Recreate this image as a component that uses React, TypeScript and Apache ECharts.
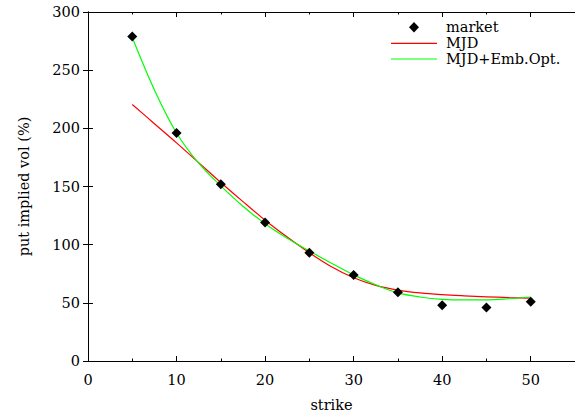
import React, { useEffect, useRef } from "react";
import * as echarts from "echarts";

const strikes = [5, 10, 15, 20, 25, 30, 35, 40, 45, 50];
const marketVol = [279, 196, 152, 119, 93, 74, 59, 48, 46, 51];

const curveX = [5, 7.5, 10, 12.5, 15, 17.5, 20, 22.5, 25, 27.5, 30, 32.5, 35, 37.5, 40, 42.5, 45, 47.5, 50];
const mjdVol = [220.5, 204, 187.5, 170.5, 153.5, 137, 121, 106.5, 93, 81, 71.5, 65, 61, 58.5, 57, 56, 55.2, 54.5, 54];
const mjdEmbVol = [278, 233, 196, 170, 150.5, 133, 118, 105.5, 94.5, 84, 74, 65.5, 58.5, 55, 53, 52.5, 52.5, 53.5, 55];

const xTicks = [0, 10, 20, 30, 40, 50];
const yTicks = [0, 50, 100, 150, 200, 250, 300];

const FONT = "DejaVu Serif";
const FS = 14.5;

export default function App() {
  const ref = useRef<HTMLDivElement>(null);
  useEffect(() => {
    if (!ref.current) return;
    const chart = echarts.init(ref.current, null, { renderer: "svg" });
    const pair = (xs: number[], ys: number[]) => xs.map((x, i) => [x, ys[i]]);
    const xMax = 55;
    const baseX = {
      type: "value",
      min: xTicks[0],
      max: xMax,
      splitLine: { show: false },
      axisLine: { show: true, lineStyle: { color: "#000", width: 1 } },
    };
    const baseY = {
      type: "value",
      min: yTicks[0],
      max: yTicks[yTicks.length - 1],
      interval: 50,
      splitLine: { show: false },
      axisLine: { show: true, lineStyle: { color: "#000", width: 1 } },
    };
    chart.setOption({
      animation: false,
      backgroundColor: "#fff",
      grid: { left: 88, top: 12, width: 490, height: 350 },
      xAxis: [
        {
          ...baseX,
          position: "bottom",
          interval: 10,
          name: "strike",
          nameLocation: "middle",
          nameGap: 36,
          nameTextStyle: { fontFamily: FONT, fontSize: FS, color: "#000" },
          axisTick: { show: true, inside: true, length: 5, lineStyle: { color: "#000" } },
          axisLabel: {
            show: true,
            margin: 11,
            showMaxLabel: false,
            fontFamily: FONT,
            fontSize: FS,
            color: "#000",
          },
        },
        {
          ...baseX,
          position: "bottom",
          interval: 5,
          axisLine: { show: false },
          axisTick: { show: true, inside: true, length: 2.5, lineStyle: { color: "#000" } },
          axisLabel: { show: false },
        },
        {
          ...baseX,
          position: "top",
          interval: 10,
          axisTick: { show: true, inside: true, length: 5, lineStyle: { color: "#000" } },
          axisLabel: { show: false },
        },
        {
          ...baseX,
          position: "top",
          interval: 5,
          axisLine: { show: false },
          axisTick: { show: true, inside: true, length: 2.5, lineStyle: { color: "#000" } },
          axisLabel: { show: false },
        },
      ],
      yAxis: [
        {
          ...baseY,
          position: "left",
          name: "put implied vol (%)",
          nameLocation: "middle",
          nameGap: 57,
          nameTextStyle: { fontFamily: FONT, fontSize: FS, color: "#000" },
          axisTick: { show: true, inside: true, length: 5, lineStyle: { color: "#000" } },
          axisLabel: { show: true, margin: 8, fontFamily: FONT, fontSize: FS, color: "#000" },
        },
        {
          ...baseY,
          position: "right",
          axisTick: { show: true, inside: true, length: 5, lineStyle: { color: "#000" } },
          axisLabel: { show: false },
        },
      ],
      series: [
        {
          name: "MJD",
          type: "line",
          data: pair(curveX, mjdVol),
          smooth: 0.35,
          showSymbol: false,
          lineStyle: { color: "#ff0000", width: 1.2 },
          itemStyle: { color: "#ff0000" },
          z: 2,
        },
        {
          name: "MJD+Emb.Opt.",
          type: "line",
          data: pair(curveX, mjdEmbVol),
          smooth: 0.35,
          showSymbol: false,
          lineStyle: { color: "#00ff00", width: 1.2 },
          itemStyle: { color: "#00ff00" },
          z: 3,
        },
        {
          name: "market",
          type: "scatter",
          data: pair(strikes, marketVol),
          symbol: "diamond",
          symbolSize: 10,
          itemStyle: { color: "#000", opacity: 1 },
          z: 4,
        },
      ],
      graphic: [
        {
          type: "polygon",
          shape: { points: [[414, 22], [419, 27.2], [414, 32.4], [409, 27.2]] },
          style: { fill: "#000" },
        },
        { type: "text", x: 446, y: 27.2, style: { text: "market", fontFamily: FONT, fontSize: FS, fill: "#000", verticalAlign: "middle" } },
        { type: "line", shape: { x1: 391, y1: 43.3, x2: 437, y2: 43.3 }, style: { stroke: "#ff0000", lineWidth: 1.2 } },
        { type: "text", x: 446, y: 43, style: { text: "MJD", fontFamily: FONT, fontSize: FS, fill: "#000", verticalAlign: "middle" } },
        { type: "line", shape: { x1: 391, y1: 59, x2: 437, y2: 59 }, style: { stroke: "#00ff00", lineWidth: 1.2 } },
        { type: "text", x: 446, y: 59, style: { text: "MJD+Emb.Opt.", fontFamily: FONT, fontSize: FS, fill: "#000", verticalAlign: "middle" } },
      ],
    });
    return () => chart.dispose();
  }, []);
  return (
    <div style={{ position: "fixed", left: 0, top: 0, width: 575, height: 417, overflow: "hidden", background: "#fff" }}>
      <div ref={ref} style={{ width: 575, height: 417 }} />
    </div>
  );
}
